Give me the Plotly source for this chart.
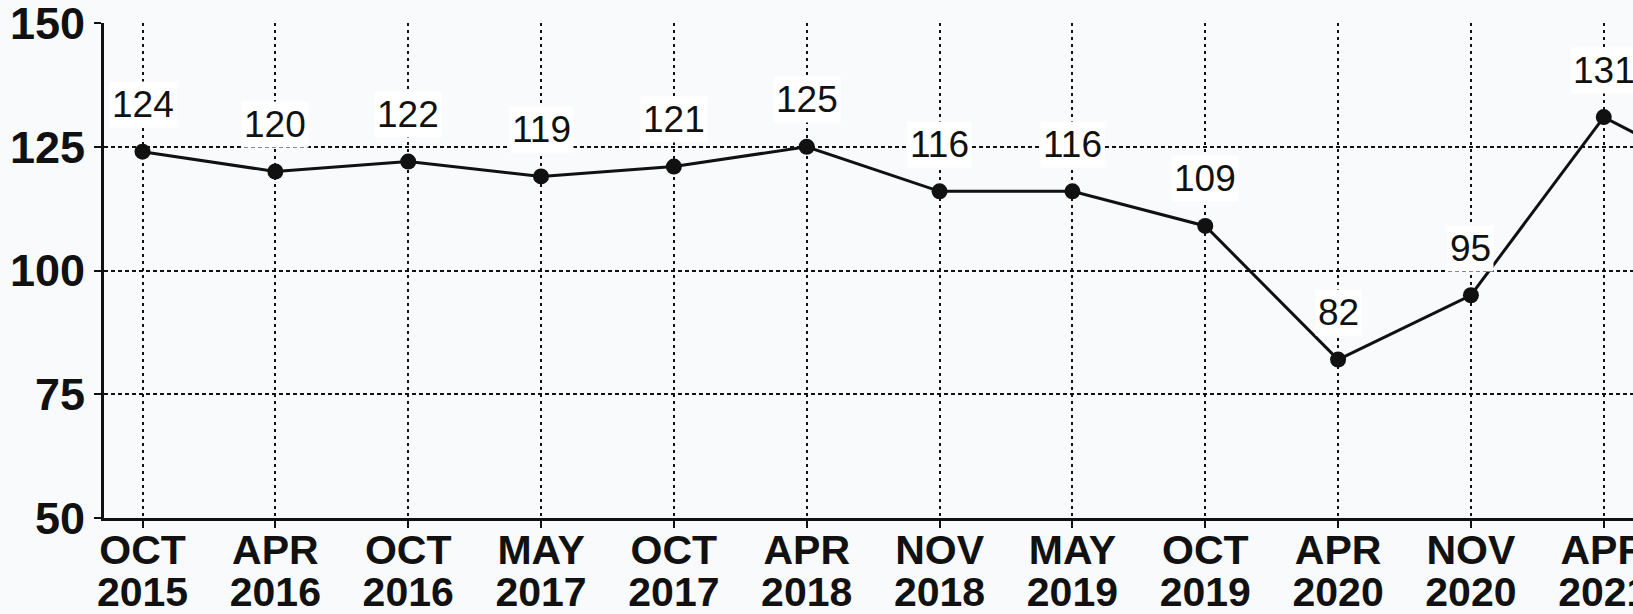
import plotly.graph_objects as go

# 調査時点（月・年）と指数値
months = ["OCT", "APR", "OCT", "MAY", "OCT", "APR", "NOV", "MAY", "OCT", "APR", "NOV", "APR", "OCT"]
years = ["2015", "2016", "2016", "2017", "2017", "2018", "2018", "2019", "2019", "2020", "2020", "2021", "2021"]
values = [124, 120, 122, 119, 121, 125, 116, 116, 109, 82, 95, 131, 117]

y_ticks = [50, 75, 100, 125, 150]

BG = "#f9fafc"
INK = "#111111"
FONT = "Liberation Sans"

idx = list(range(len(values)))
x_range = [-0.29, 11.22]

fig = go.Figure()

fig.add_trace(go.Scatter(
    x=idx, y=values, mode="lines+markers",
    line=dict(color=INK, width=3),
    marker=dict(size=16, color=INK),
    showlegend=False, hoverinfo="skip",
))

# years row lives on an overlaid x axis so it can sit tight under the months
fig.add_trace(go.Scatter(
    x=idx, y=values, mode="none", xaxis="x2",
    showlegend=False, hoverinfo="skip",
))

for i, v in zip(idx, values):
    fig.add_annotation(
        x=i, y=v, text=str(v), showarrow=False, yshift=47,
        font=dict(family=FONT, size=37, color=INK),
        bgcolor="white", borderpad=2,
    )

fig.update_layout(
    width=1633, height=614,
    paper_bgcolor=BG, plot_bgcolor=BG,
    margin=dict(l=104, r=0, t=23, b=96),
    xaxis=dict(
        range=x_range, tickmode="array", tickvals=idx, ticktext=months,
        ticks="outside", ticklen=7, tickwidth=2, tickcolor=INK,
        showline=True, linecolor=INK, linewidth=3,
        showgrid=True, gridcolor=INK, gridwidth=2, griddash="3px,4px",
        zeroline=False, automargin=False,
        ticklabeloverflow="allow", ticklabelstandoff=-13,
        tickfont=dict(family=FONT, size=41, color=INK, weight="bold"),
    ),
    xaxis2=dict(
        range=x_range, overlaying="x", anchor="y", side="bottom",
        tickmode="array", tickvals=idx, ticktext=years,
        ticks="", showline=False, showgrid=False, zeroline=False,
        automargin=False, ticklabeloverflow="allow", ticklabelstandoff=46,
        tickfont=dict(family=FONT, size=41, color=INK, weight="bold"),
    ),
    yaxis=dict(
        range=[50, 150], tickmode="array", tickvals=y_ticks,
        ticks="outside", ticklen=7, tickwidth=2, tickcolor=INK,
        showline=True, linecolor=INK, linewidth=3,
        showgrid=True, gridcolor=INK, gridwidth=2, griddash="4px,3px",
        zeroline=False, automargin=False, ticklabeloverflow="allow",
        tickfont=dict(family=FONT, size=45, color=INK, weight="bold"),
    ),
)

# drop the default body margin so the figure fills the window exactly
fig.write_html(
    "out.html",
    config={"displayModeBar": False},
    post_script="document.body.style.margin = '0';",
)
